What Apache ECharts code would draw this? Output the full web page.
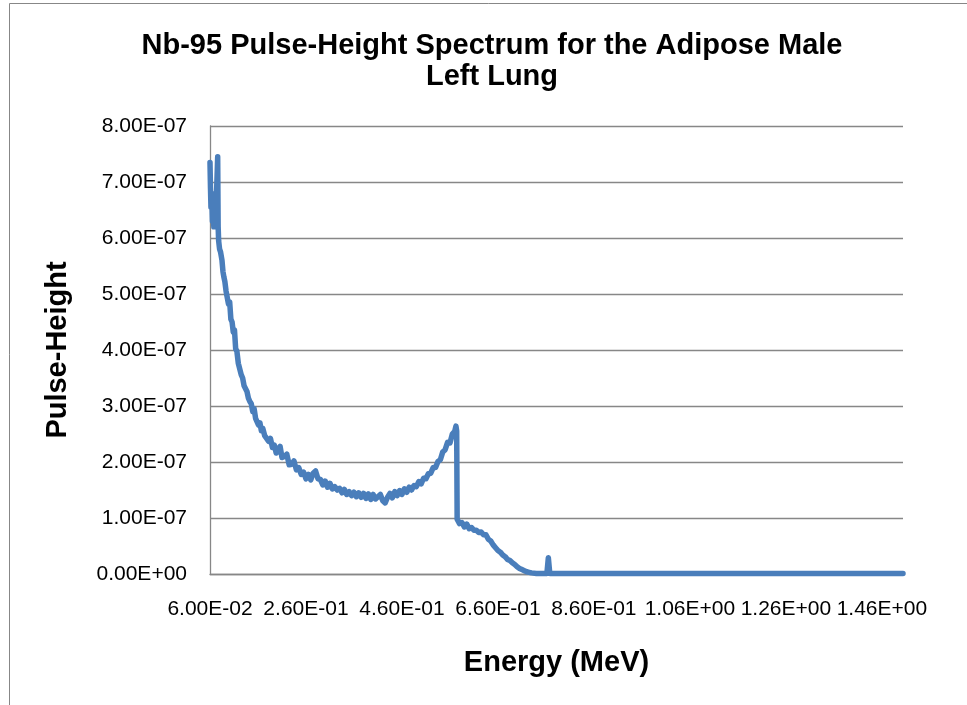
<!DOCTYPE html>
<html>
<head>
<meta charset="utf-8">
<title>Nb-95 Pulse-Height Spectrum</title>
<script src="https://cdn.jsdelivr.net/npm/echarts@6/dist/echarts.min.js"></script>
<style>
    html, body { margin: 0; padding: 0; background: #fff; }
    #chart { width: 967px; height: 705px; }
</style>
</head>
<body>
<div id="chart"></div>
<script>
// energy in MeV, pulse height in units of 1e-7
const energy = [
    0.0600, 0.0610, 0.0620, 0.0635, 0.0650, 0.0665, 0.0680, 0.0700, 0.0720, 0.0740,
    0.0760, 0.0770, 0.0780, 0.0800, 0.0820, 0.0850, 0.0870, 0.0890, 0.0910, 0.0935,
    0.0960, 0.0985, 0.1010, 0.1035, 0.1060, 0.1085, 0.1110, 0.1135, 0.1160, 0.1190,
    0.1220, 0.1250, 0.1280, 0.1310, 0.1340, 0.1370, 0.1400, 0.1430, 0.1460, 0.1490,
    0.1520, 0.1550, 0.1580, 0.1610, 0.1640, 0.1670, 0.1700, 0.1740, 0.1780, 0.1820,
    0.1860, 0.1900, 0.1940, 0.1980, 0.2020, 0.2060, 0.2100, 0.2150, 0.2200, 0.2250,
    0.2300, 0.2350, 0.2400, 0.2450, 0.2500, 0.2550, 0.2600, 0.2650, 0.2700, 0.2750,
    0.2800, 0.2850, 0.2900, 0.2950, 0.3000, 0.3050, 0.3100, 0.3150, 0.3200, 0.3250,
    0.3300, 0.3350, 0.3400, 0.3450, 0.3500, 0.3550, 0.3600, 0.3650, 0.3700, 0.3750,
    0.3800, 0.3850, 0.3900, 0.3950, 0.4000, 0.4050, 0.4100, 0.4150, 0.4200, 0.4250,
    0.4300, 0.4350, 0.4400, 0.4450, 0.4500, 0.4550, 0.4600, 0.4650, 0.4700, 0.4750,
    0.4800, 0.4850, 0.4900, 0.4950, 0.5000, 0.5050, 0.5100, 0.5150, 0.5200, 0.5250,
    0.5300, 0.5350, 0.5400, 0.5450, 0.5500, 0.5550, 0.5600, 0.5650, 0.5700, 0.5725,
    0.5740, 0.5750, 0.5800, 0.5850, 0.5900, 0.5950, 0.6000, 0.6050, 0.6100, 0.6150,
    0.6200, 0.6250, 0.6300, 0.6350, 0.6400, 0.6450, 0.6500, 0.6550, 0.6600, 0.6650,
    0.6700, 0.6750, 0.6800, 0.6850, 0.6900, 0.6950, 0.7000, 0.7050, 0.7100, 0.7150,
    0.7200, 0.7250, 0.7300, 0.7400, 0.7500, 0.7620, 0.7650, 0.7680, 0.8000, 1.5040
];
const pulseHeight = [
    7.35, 6.90, 6.55, 6.80, 6.30, 6.45, 6.20, 6.60, 6.35, 6.90,
    7.45, 6.20, 5.95, 5.80, 5.75, 5.60, 5.40, 5.30, 5.22, 5.05,
    5.02, 4.82, 4.86, 4.55, 4.50, 4.32, 4.36, 4.02, 3.98, 3.76,
    3.76, 3.56, 3.50, 3.36, 3.34, 3.26, 3.14, 3.08, 3.04, 2.90,
    2.95, 2.78, 2.80, 2.66, 2.70, 2.56, 2.60, 2.47, 2.50, 2.37,
    2.42, 2.26, 2.30, 2.16, 2.22, 2.28, 2.08, 2.10, 2.14, 1.95,
    1.96, 2.02, 1.86, 1.90, 1.78, 1.82, 1.70, 1.78, 1.68, 1.80,
    1.84, 1.70, 1.69, 1.59, 1.66, 1.55, 1.62, 1.52, 1.56, 1.50,
    1.53, 1.45, 1.51, 1.42, 1.47, 1.40, 1.46, 1.38, 1.45, 1.37,
    1.44, 1.35, 1.43, 1.33, 1.42, 1.34, 1.38, 1.42, 1.31, 1.27,
    1.37, 1.44, 1.36, 1.47, 1.40, 1.49, 1.42, 1.52, 1.46, 1.55,
    1.50, 1.58, 1.56, 1.65, 1.61, 1.71, 1.70, 1.79, 1.80, 1.90,
    1.90, 2.01, 2.04, 2.18, 2.22, 2.35, 2.34, 2.50, 2.55, 2.64,
    2.55, 0.98, 0.90, 0.92, 0.84, 0.89, 0.81, 0.83, 0.78, 0.78,
    0.74, 0.75, 0.70, 0.70, 0.62, 0.59, 0.52, 0.47, 0.42, 0.39,
    0.34, 0.31, 0.26, 0.24, 0.20, 0.17, 0.13, 0.10, 0.08, 0.06,
    0.04, 0.03, 0.02, 0.01, 0.01, 0.01, 0.29, 0.01, 0.01, 0.01
];
const xTicks = [0.06, 0.26, 0.46, 0.66, 0.86, 1.06, 1.26, 1.46];
const yTicks = [0, 1e-7, 2e-7, 3e-7, 4e-7, 5e-7, 6e-7, 7e-7, 8e-7];

const font = '"Liberation Sans", Arial, sans-serif';
const gray = '#878787';

// Excel style: 8.00E-07, 0.00E+00
function sci(v) {
    const parts = Number(v).toExponential(2).split('e');
    const exp = parseInt(parts[1], 10);
    const sign = exp < 0 ? '-' : '+';
    return parts[0] + 'E' + sign + String(Math.abs(exp)).padStart(2, '0');
}

const chart = echarts.init(document.getElementById('chart'));
chart.setOption({
    animation: false,
    backgroundColor: '#fff',
    textStyle: { fontFamily: font },
    graphic: [
        {
            type: 'rect',
            shape: { x: 9.5, y: 3.5, width: 1200, height: 1200 },
            style: { fill: 'none', stroke: gray, lineWidth: 1 },
            silent: true
        },
        {
            type: 'text',
            x: 492,
            y: 30,
            style: {
                text: 'Nb-95 Pulse-Height Spectrum for the Adipose Male\nLeft Lung',
                font: 'bold 29px ' + font,
                fill: '#000',
                align: 'center',
                lineHeight: 31
            }
        }
    ],
    grid: {
        left: 210,
        right: 64,
        top: 126,
        bottom: 131
    },
    xAxis: {
        type: 'value',
        min: 0.06,
        max: 1.504,
        name: 'Energy (MeV)',
        nameLocation: 'middle',
        nameGap: 74,
        nameTextStyle: { fontSize: 29, fontWeight: 'bold', color: '#000', fontFamily: font },
        axisLine: { show: true, lineStyle: { color: gray, width: 1.3 } },
        axisTick: { show: false },
        splitLine: { show: false },
        axisLabel: {
            customValues: xTicks,
            formatter: sci,
            fontSize: 21,
            color: '#000',
            margin: 25,
            fontFamily: font
        }
    },
    yAxis: {
        type: 'value',
        min: 0,
        max: 8e-7,
        interval: 1e-7,
        name: 'Pulse-Height',
        nameLocation: 'middle',
        nameGap: 138,
        nameTextStyle: { fontSize: 29, fontWeight: 'bold', color: '#000', fontFamily: font },
        axisLine: { show: true, lineStyle: { color: gray, width: 1.3 } },
        axisTick: { show: false },
        splitLine: { show: true, lineStyle: { color: gray, width: 1.3 } },
        axisLabel: {
            customValues: yTicks,
            formatter: sci,
            fontSize: 21,
            color: '#000',
            margin: 23,
            fontFamily: font
        }
    },
    series: [
        {
            type: 'line',
            data: energy.map((e, i) => [e, pulseHeight[i] * 1e-7]),
            showSymbol: false,
            symbol: 'none',
            clip: false,
            lineStyle: { color: '#4a7ebb', width: 5.5, cap: 'round', join: 'round' }
        }
    ]
});
</script>
</body>
</html>
